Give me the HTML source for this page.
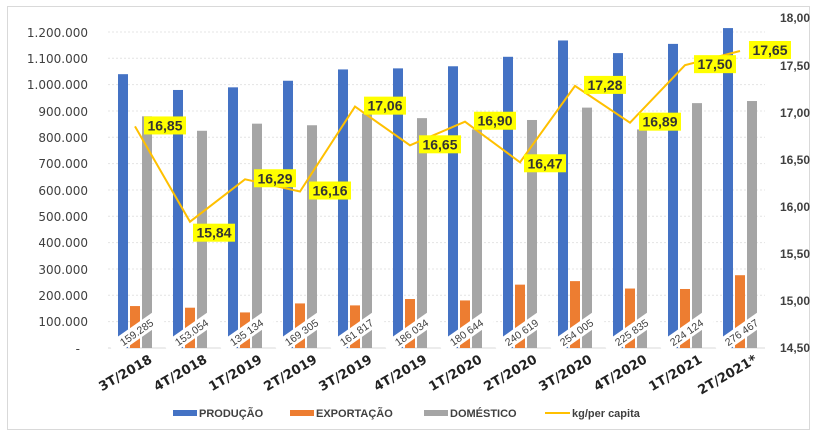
<!DOCTYPE html>
<html><head><meta charset="utf-8"><style>
body{margin:0;background:#fff;}
svg{display:block;font-family:"Liberation Sans",sans-serif;}
</style></head><body>
<svg width="820" height="438" viewBox="0 0 820 438" xmlns="http://www.w3.org/2000/svg">
<rect x="7.5" y="6.5" width="802" height="423" fill="#fff" stroke="#d9d9d9"/>
<g stroke="#e4e4e4" stroke-dasharray="2,2">
<line x1="108" x2="765" y1="32" y2="32"/><line x1="108" x2="765" y1="58.3" y2="58.3"/><line x1="108" x2="765" y1="84.6" y2="84.6"/><line x1="108" x2="765" y1="111" y2="111"/><line x1="108" x2="765" y1="137.3" y2="137.3"/><line x1="108" x2="765" y1="163.6" y2="163.6"/><line x1="108" x2="765" y1="190" y2="190"/><line x1="108" x2="765" y1="216.3" y2="216.3"/><line x1="108" x2="765" y1="242.6" y2="242.6"/><line x1="108" x2="765" y1="269" y2="269"/><line x1="108" x2="765" y1="295.3" y2="295.3"/><line x1="108" x2="765" y1="321.6" y2="321.6"/>
</g>
<line x1="108" x2="765" y1="348" y2="348" stroke="#d9d9d9"/>
<g font-size="12" fill="#404040" text-anchor="end" font-family="DejaVu Sans, sans-serif">
<text x="88" y="37">1.200.000</text><text x="88" y="63">1.100.000</text><text x="88" y="89">1.000.000</text><text x="88" y="116">900.000</text><text x="88" y="142">800.000</text><text x="88" y="168">700.000</text><text x="88" y="195">600.000</text><text x="88" y="221">500.000</text><text x="88" y="247">400.000</text><text x="88" y="274">300.000</text><text x="88" y="300">200.000</text><text x="88" y="326">100.000</text><text x="80" y="353">-</text>
</g>
<g font-size="12" fill="#404040" font-weight="bold">
<text x="780" y="22">18,00</text><text x="780" y="70">17,50</text><text x="780" y="117">17,00</text><text x="780" y="164">16,50</text><text x="780" y="211">16,00</text><text x="780" y="258">15,50</text><text x="780" y="305">15,00</text><text x="780" y="352">14,50</text>
</g>
<g id="bars"></g>
<g id="labels"></g>
<g font-size="13" font-weight="bold" fill="#222" id="xl" font-family="DejaVu Sans, sans-serif"></g>
<g font-size="11" font-weight="bold" fill="#404040">
<rect x="173" y="410" width="24" height="6" fill="#4472c4"/><text x="199" y="417">PRODUÇÃO</text>
<rect x="290" y="410" width="24" height="6" fill="#ed7d31"/><text x="316" y="417">EXPORTAÇÃO</text>
<rect x="424" y="410" width="24" height="6" fill="#a5a5a5"/><text x="450" y="417">DOMÉSTICO</text>
<line x1="545" x2="570" y1="413" y2="413" stroke="#ffc000" stroke-width="2"/><text x="572" y="417">kg/per capita</text>
</g>
<script>
var P=[1040,980,990,1015,1058,1062,1070,1106,1168,1120,1155,1215];
var D=[880,825,852,846,890,873,830,866,913,830,930,938];
var E=[159285,153054,135134,169305,161817,186034,180644,240619,254005,225835,224124,276467];
var EL=["159.285","153.054","135 134","169 305","161 817","186 034","180 644","240 619","254 005","225 835","224 124","276 467"];
var K=[16.85,15.84,16.29,16.16,17.06,16.65,16.90,16.47,17.28,16.89,17.50,17.65];
var X=["3T/2018","4T/2018","1T/2019","2T/2019","3T/2019","4T/2019","1T/2020","2T/2020","3T/2020","4T/2020","1T/2021","2T/2021*"];
var ns="http://www.w3.org/2000/svg";
function el(p,t,a,txt){var e=document.createElementNS(ns,t);for(var k in a)e.setAttribute(k,a[k]);if(txt)e.textContent=txt;p.appendChild(e);return e;}
var b=document.getElementById('bars'),L=document.getElementById('labels'),xl=document.getElementById('xl');
function y(v){return 348-v*0.2633;}
function ky(v){return 18+(18-v)*94.3;}
var pts=[];
for(var i=0;i<12;i++){var c=135+55*i;
el(b,'rect',{x:c-17,y:y(P[i]),width:10,height:348-y(P[i]),fill:'#4472c4'});
el(b,'rect',{x:c-5,y:y(E[i]/1000),width:10,height:348-y(E[i]/1000),fill:'#ed7d31'});
el(b,'rect',{x:c+7,y:y(D[i]),width:10,height:348-y(D[i]),fill:'#a5a5a5'});
var g=el(L,'g',{transform:'translate('+(c+2)+',333) rotate(-35)'});
el(g,'rect',{x:-30,y:-8,width:60,height:14,fill:'#fff'});
el(g,'text',{x:0,y:3,'text-anchor':'middle','font-size':'10.5',fill:'#404040'},EL[i]);
var tx=c+18,tg=el(xl,'g',{transform:'translate('+tx+',362) rotate(-30)'});
el(tg,'text',{x:0,y:0,'text-anchor':'end'},X[i]);
pts.push(c+','+ky(K[i]).toFixed(1));}
el(L,'polyline',{points:pts.join(' '),fill:'none',stroke:'#ffc000','stroke-width':2});
for(var i=0;i<12;i++){var c=135+55*i,yy=ky(K[i]);
var lx=c+9,ly=yy-10; if(i==1){lx=c+3;ly=yy+2;} if(i==7){lx=c+4;ly=yy-8;}
el(L,'rect',{x:lx,y:ly,width:42,height:18,fill:'#ffff00'});
el(L,'text',{x:lx+21,y:ly+14,'text-anchor':'middle','font-size':'14','font-weight':'bold',fill:'#333'},K[i].toFixed(2).replace('.',','));}
</script>
</svg>
</body></html>
